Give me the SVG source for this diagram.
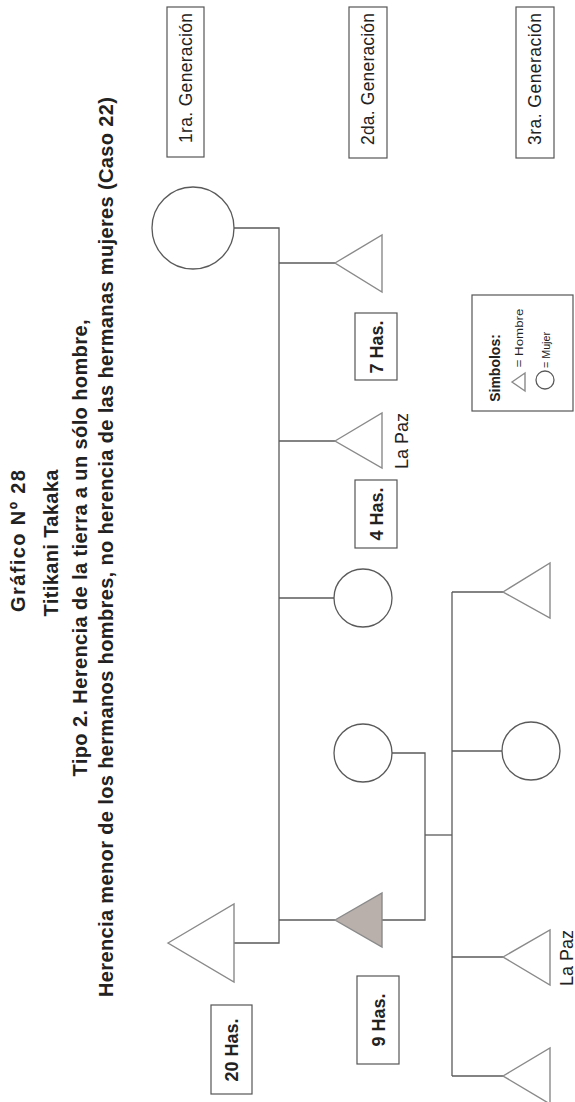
<svg xmlns="http://www.w3.org/2000/svg" width="575" height="1102" viewBox="0 0 575 1102">
<style>
.bg{fill:#ffffff}
.ln{fill:none;stroke:#5a5a5a;stroke-width:1.3}
.m{fill:#ffffff;stroke:#8a8a8a;stroke-width:1.4}
.f{fill:#ffffff;stroke:#5a5a5a;stroke-width:1.3}
.ego{fill:#b9afab;stroke:#8a8a8a;stroke-width:1.4}
.box{fill:#ffffff;stroke:#555555;stroke-width:1.2}
.t{font-family:"Liberation Sans",Arial,sans-serif;fill:#222222}
.tb{font-family:"Liberation Sans",Arial,sans-serif;fill:#222222;font-weight:bold}
</style>
<rect class="bg" x="0" y="0" width="575" height="1102"/>

<g id="title">
<text class="tb" font-size="20" textLength="142" lengthAdjust="spacing" text-anchor="middle" transform="translate(25,541) rotate(-90)">Gráfico Nº 28</text>
<text class="tb" font-size="20" textLength="147" lengthAdjust="spacing" text-anchor="middle" transform="translate(58,543) rotate(-90)">Titikani Takaka</text>
<text class="tb" font-size="20" textLength="457" lengthAdjust="spacing" text-anchor="middle" transform="translate(87,548) rotate(-90)">Tipo 2. Herencia de la tierra a un sólo hombre,</text>
<text class="tb" font-size="20" textLength="900" lengthAdjust="spacing" text-anchor="middle" transform="translate(113,547) rotate(-90)">Herencia menor de los hermanos hombres, no herencia de las hermanas mujeres (Caso 22)</text>
</g>

<g id="gen1"><rect class="box" x="167" y="7" width="37" height="150"/>
<text class="t" font-size="17.5" textLength="130" lengthAdjust="spacing" text-anchor="middle" transform="translate(192,78) rotate(-90)">1ra. Generación</text></g>
<g id="gen2"><rect class="box" x="349" y="7" width="38" height="151"/>
<text class="t" font-size="17.5" textLength="132" lengthAdjust="spacing" text-anchor="middle" transform="translate(374,79) rotate(-90)">2da. Generación</text></g>
<g id="gen3"><rect class="box" x="516" y="7" width="38" height="151"/>
<text class="t" font-size="17.5" textLength="132" lengthAdjust="spacing" text-anchor="middle" transform="translate(541,79) rotate(-90)">3ra. Generación</text></g>

<g id="connectors">
<polyline class="ln" points="234,228 279,228 279,943 234,943"/>
<line class="ln" x1="279" y1="263" x2="335" y2="263"/>
<line class="ln" x1="279" y1="441" x2="335" y2="441"/>
<line class="ln" x1="279" y1="598" x2="334" y2="598"/>
<line class="ln" x1="279" y1="920" x2="335" y2="920"/>
<polyline class="ln" points="382,920 425,920 425,753 392,753"/>
<line class="ln" x1="425" y1="835" x2="452" y2="835"/>
<line class="ln" x1="452" y1="592" x2="452" y2="1076"/>
<line class="ln" x1="452" y1="592" x2="503" y2="592"/>
<line class="ln" x1="452" y1="751" x2="502" y2="751"/>
<line class="ln" x1="452" y1="957" x2="503" y2="957"/>
<line class="ln" x1="452" y1="1076" x2="503" y2="1076"/>
</g>

<g id="mother"><circle class="f" cx="193" cy="228" r="41"/></g>
<g id="father"><polygon class="m" points="168,943 234,904 234,982"/></g>

<g id="son1"><polygon class="m" points="335,263 382,235 382,292"/></g>
<g id="son2"><polygon class="m" points="335,441 382,413 382,468"/>
<text class="t" font-size="18" text-anchor="middle" transform="translate(408,441) rotate(-90)">La Paz</text></g>
<g id="daughter1"><circle class="f" cx="363" cy="598" r="29"/></g>
<g id="ego"><polygon class="ego" points="335,920 382,893 382,947"/></g>
<g id="spouse"><circle class="f" cx="363" cy="753" r="29"/></g>

<g id="child1"><polygon class="m" points="503,592 550,563 550,618"/></g>
<g id="child2"><circle class="f" cx="531" cy="751" r="29"/></g>
<g id="child3"><polygon class="m" points="503,957 550,930 550,985"/>
<text class="t" font-size="18" text-anchor="middle" transform="translate(573,958) rotate(-90)">La Paz</text></g>
<g id="child4"><polygon class="m" points="503,1076 550,1048 550,1104"/></g>

<g id="has7"><rect class="box" x="355" y="313" width="42" height="67"/>
<text class="tb" font-size="18" text-anchor="middle" transform="translate(383,347) rotate(-90)">7 Has.</text></g>
<g id="has4"><rect class="box" x="355" y="480" width="42" height="68"/>
<text class="tb" font-size="18" text-anchor="middle" transform="translate(383,514) rotate(-90)">4 Has.</text></g>
<g id="has9"><rect class="box" x="357" y="976" width="42" height="88"/>
<text class="tb" font-size="18" text-anchor="middle" transform="translate(385,1020) rotate(-90)">9 Has.</text></g>
<g id="has20"><rect class="box" x="211" y="1005" width="41" height="89"/>
<text class="tb" font-size="18" text-anchor="middle" transform="translate(238,1050) rotate(-90)">20 Has.</text></g>

<g id="legend">
<rect class="box" x="472" y="295" width="101" height="116"/>
<text class="tb" font-size="14" text-anchor="middle" transform="translate(500,368) rotate(-90)">Simbolos:</text>
<polygon class="m" points="512,382 525,373 525,391"/>
<circle class="f" cx="545" cy="380" r="9"/>
<text class="t" font-size="10" textLength="59" lengthAdjust="spacingAndGlyphs" text-anchor="middle" transform="translate(523,338) rotate(-90)">= Hombre</text>
<text class="t" font-size="10" textLength="36" lengthAdjust="spacingAndGlyphs" text-anchor="middle" transform="translate(550,350) rotate(-90)">= Mujer</text>
</g>
</svg>
